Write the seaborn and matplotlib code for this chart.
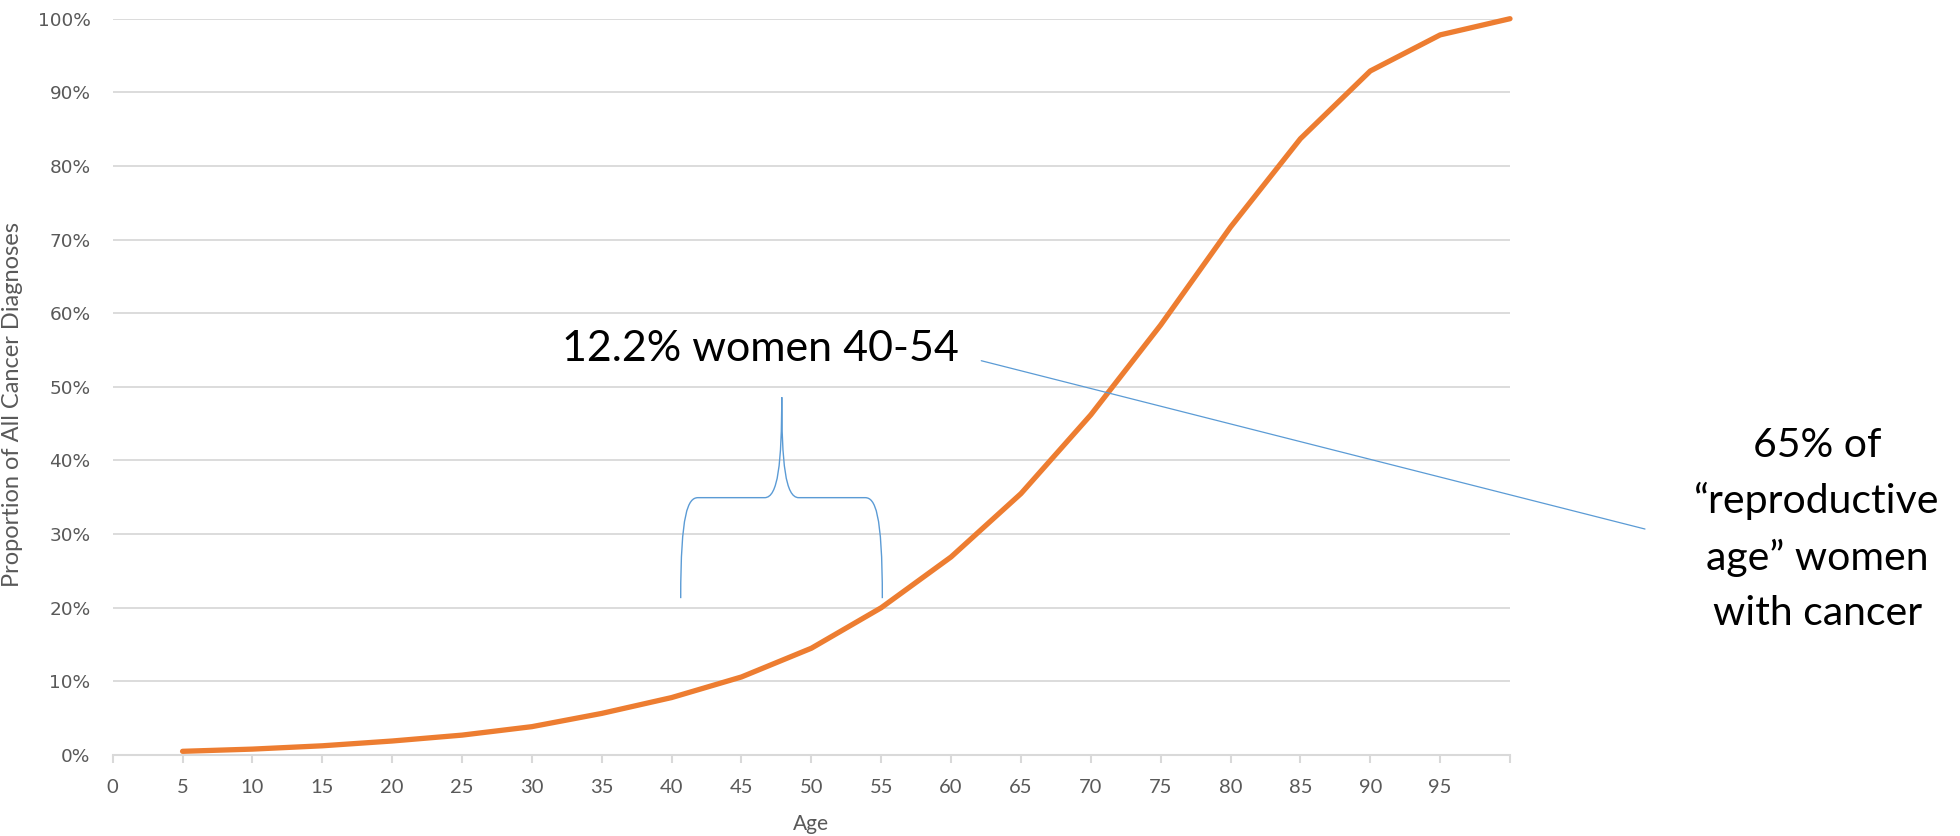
import matplotlib
matplotlib.use("Agg")
import matplotlib.pyplot as plt
from matplotlib.path import Path
from matplotlib.patches import PathPatch
import pandas as pd
import seaborn as sns

# Cumulative share of all cancer diagnoses by age (percent)
ages = [5, 10, 15, 20, 25, 30, 35, 40, 45, 50, 55, 60, 65, 70, 75, 80, 85, 90, 95, 100]
cumulative_share = [0.5, 0.8, 1.25, 1.9, 2.7, 3.85, 5.65, 7.8, 10.6, 14.5,
                    20.0, 26.9, 35.5, 46.2, 58.4, 71.7, 83.7, 92.9, 97.8, 100.0]

x_ticks = list(range(0, 101, 5))
x_tick_labels = [str(t) for t in range(0, 100, 5)] + [""]
y_ticks = list(range(0, 101, 10))
y_tick_labels = [f"{t}%" for t in y_ticks]

x_title = "Age"
y_title = "Proportion of All Cancer Diagnoses"
bracket_note = "12.2% women 40-54"
callout_note = "65% of\n\u201creproductive\nage\u201d women\nwith cancer"

# Curly brace over the 40-54 age band: left foot, tip, right foot (age) and foot, arm, tip (%)
brace_x = (40.65, 47.88, 55.08)
brace_y = (21.3, 34.95, 48.6)
# Leader line from the bracket note towards the callout
leader_x = (62.16, 109.66)
leader_y = (53.55, 30.69)
bracket_note_pos = (32.12, 53.55)
# Callout anchored at the baseline of its last line
callout_pos = (121.98, 17.6)

ORANGE = "#ED7D31"
BLUE = "#5B9BD5"
GRID = "#D9D9D9"
TICK_TEXT = "#595959"

sns.set_theme(style="white")
plt.rcParams["font.family"] = ["Lato", "DejaVu Sans"]

fig = plt.figure(figsize=(19.6, 8.36), dpi=100)
ax = fig.add_axes([0.0575, 0.09689, 0.71291, 0.88074])

df = pd.DataFrame({"age": ages, "share": cumulative_share})
sns.lineplot(data=df, x="age", y="share", ax=ax, color=ORANGE, linewidth=3.8,
             solid_capstyle="round", solid_joinstyle="round", clip_on=False, zorder=3)

ax.set_xlim(0, 100)
ax.set_ylim(0, 100)
ax.set_xticks(x_ticks)
ax.set_xticklabels(x_tick_labels)
ax.set_yticks(y_ticks)
ax.set_yticklabels(y_tick_labels)

ax.yaxis.grid(True, color=GRID, linewidth=1.3)
ax.xaxis.grid(False)
ax.set_axisbelow(True)
for side in ("left", "right", "top"):
    ax.spines[side].set_visible(False)
ax.spines["bottom"].set_color(GRID)
ax.spines["bottom"].set_linewidth(1.5)

ax.tick_params(axis="x", bottom=True, length=6, width=1.5, color=GRID,
               direction="out", pad=11, labelsize=14.5, labelcolor=TICK_TEXT)
ax.tick_params(axis="y", left=False, length=0, pad=16, labelsize=13.3,
               labelcolor=TICK_TEXT)
for lbl in ax.get_yticklabels():
    lbl.set_family("DejaVu Sans")

ax.set_xlabel(x_title, fontsize=15, color=TICK_TEXT)
ax.set_ylabel(y_title, fontsize=17, color=TICK_TEXT)
ax.xaxis.set_label_coords(0.5, -0.080)
ax.yaxis.set_label_coords(-0.0642, 0.4767)

# Curly brace drawn as cubic Bezier segments in data coordinates
xl, xt, xr = brace_x
yb, ym, yt = brace_y
wl, wr = xt - xl, xr - xt
h_low, h_up = ym - yb, yt - ym
verts = [
    (xl, yb),
    (xl, yb + 0.85 * h_low), (xl + 0.072 * wl, ym), (xl + 0.171 * wl, ym),
    (xt - 0.169 * wl, ym),
    (xt - 0.037 * wl, ym), (xt, ym + 0.34 * h_up), (xt, yt),
    (xt, ym + 0.34 * h_up), (xt + 0.037 * wr, ym), (xt + 0.169 * wr, ym),
    (xr - 0.171 * wr, ym),
    (xr - 0.072 * wr, ym), (xr, yb + 0.85 * h_low), (xr, yb),
]
codes = [Path.MOVETO,
         Path.CURVE4, Path.CURVE4, Path.CURVE4,
         Path.LINETO,
         Path.CURVE4, Path.CURVE4, Path.CURVE4,
         Path.CURVE4, Path.CURVE4, Path.CURVE4,
         Path.LINETO,
         Path.CURVE4, Path.CURVE4, Path.CURVE4]
ax.add_patch(PathPatch(Path(verts, codes), facecolor="none", edgecolor=BLUE,
                       linewidth=1.0, zorder=4))

ax.plot(leader_x, leader_y, color=BLUE, linewidth=0.9, clip_on=False, zorder=4)

ax.text(*bracket_note_pos, bracket_note, ha="left", va="baseline",
        fontsize=31, color="black", zorder=5)
ax.text(*callout_pos, callout_note, ha="center", va="baseline",
        fontsize=29.5, color="black", linespacing=1.6, clip_on=False, zorder=5)

fig.savefig("out.png", dpi=100)
